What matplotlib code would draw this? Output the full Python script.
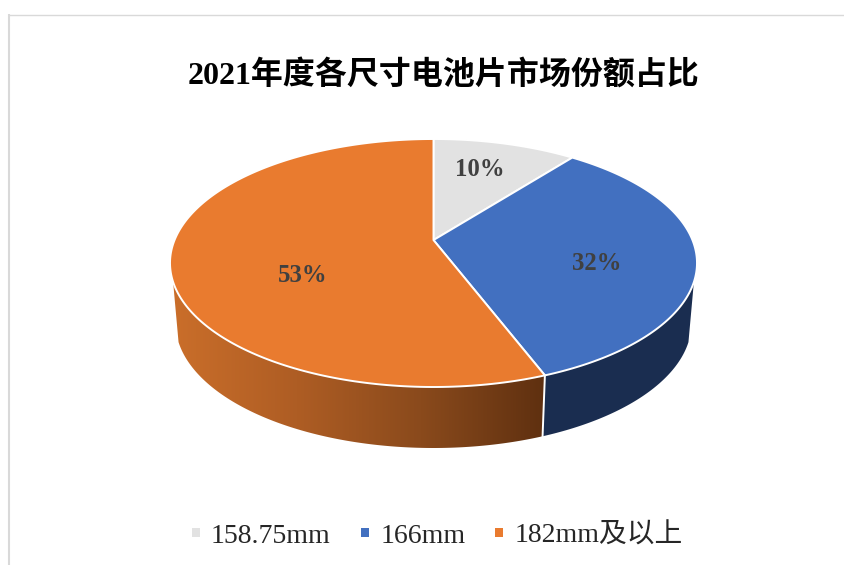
# -*- coding: utf-8 -*-
"""3D-look pie of cell size market share, 2021. Saves out.png."""
import numpy as np
import matplotlib
matplotlib.use("Agg")
import matplotlib.pyplot as plt
from matplotlib.colors import LinearSegmentedColormap
from matplotlib.patches import Polygon, Rectangle

TITLE = "2021年度各尺寸电池片市场份额占比"
CATEGORIES = ["158.75mm", "166mm", "182mm及以上"]
VALUES = [10, 32, 53]
LABELS = ["10%", "32%", "53%"]

COLORS = ["#E2E2E2", "#4270C0", "#E97B2F"]
BLUE_SIDE = "#1A2D50"
ORANGE_SIDE = ["#CA6E2A", "#AE5D24", "#8A4A1C", "#5F3010"]
TEXT = "#404040"
BORDER = "#D9D9D9"
SERIF = ["Liberation Serif", "Noto Sans CJK SC"]

# layout, in pixels of the 845x565 picture
W, H = 845, 565
TOP = dict(cx=433.5, cy=263, a=263.5, b=124)
BOTTOM = dict(cx=433.5, cy=323, a=258, b=125)
TILT = 0.185                # how far the pie centre sits above the ellipse centre
SIL_RIGHT, SIL_LEFT = 109.2, 250.8   # angles where the side wall starts and ends
LABEL_XY = [(480, 170), (597, 263), (303, 276)]
LEGEND_SWATCH = [192, 361, 495]
LEGEND_TEXT = [211, 381, 515]

plt.rcParams["font.family"] = SERIF


def rim(theta_deg, ell):
    """Clockwise-from-top angle on the unit circle -> pixel, with perspective."""
    t = np.radians(np.asarray(theta_deg, dtype=float))
    x, y = np.sin(t), np.cos(t)
    den = 1 + TILT * y
    xp = x * np.sqrt(1 - TILT ** 2) / den
    yp = (y + TILT) / den
    return np.column_stack([ell["cx"] + xp * ell["a"], ell["cy"] - yp * ell["b"]])


def arc(start, end, n=200):
    return np.linspace(start, end, n)


def side_wall(start, end):
    top = rim(arc(start, end), TOP)
    bottom = rim(arc(end, start), BOTTOM)
    return np.vstack([top, bottom])


def main():
    fig = plt.figure(figsize=(W / 100, H / 100), dpi=100, facecolor="white")
    ax = fig.add_axes([0, 0, 1, 1])
    ax.axis("off")

    # chart area border, only left and top show in the crop
    ax.plot([9, 9], [14, H], color=BORDER, lw=1.5, solid_capstyle="butt")
    ax.plot([8, W], [14.8, 14.8], color=BORDER, lw=1.0, solid_capstyle="butt")

    fracs = np.array(VALUES, dtype=float) / np.sum(VALUES)
    edges = np.concatenate([[0], np.cumsum(fracs)]) * 360

    # side walls
    blue_wall = side_wall(SIL_RIGHT, edges[2])
    ax.add_patch(Polygon(blue_wall, closed=True, facecolor=BLUE_SIDE, edgecolor="none"))
    orange_wall = Polygon(side_wall(edges[2], SIL_LEFT), closed=True,
                          facecolor="none", edgecolor="none")
    ax.add_patch(orange_wall)
    cmap = LinearSegmentedColormap.from_list("side", ORANGE_SIDE)
    xmin, xmax = orange_wall.get_xy()[:, 0].min(), orange_wall.get_xy()[:, 0].max()
    grad = ax.imshow(np.linspace(0, 1, 256)[None, :], cmap=cmap, aspect="auto",
                     extent=[xmin, xmax, H, 0], interpolation="bilinear")
    grad.set_clip_path(orange_wall)
    seam = np.vstack([rim([edges[2]], TOP), rim([edges[2]], BOTTOM)])
    ax.plot(seam[:, 0], seam[:, 1], color="white", lw=1.4)

    # top face
    centre = [TOP["cx"], TOP["cy"] - TILT * TOP["b"]]
    for i, color in enumerate(COLORS):
        pts = np.vstack([centre, rim(arc(edges[i], edges[i + 1]), TOP)])
        ax.add_patch(Polygon(pts, closed=True, facecolor=color, edgecolor="white",
                             lw=1.4, joinstyle="round"))

    for (x, y), lab in zip(LABEL_XY, LABELS):
        ax.text(x, y, lab, ha="center", va="center", fontsize=17.8,
                fontweight="bold", color=TEXT)

    ax.text(443.5, 75.5, TITLE, ha="center", va="center", fontsize=23,
            fontweight="bold", color="black")

    # legend
    for sx, tx, color, name in zip(LEGEND_SWATCH, LEGEND_TEXT, COLORS, CATEGORIES):
        ax.add_patch(Rectangle((sx, 528), 8.5, 8.5, facecolor=color, edgecolor="none"))
        ax.text(tx, 543, name, ha="left", va="baseline", fontsize=20, color="#262626")

    ax.set_xlim(0, W)
    ax.set_ylim(H, 0)
    fig.savefig("out.png", dpi=100, facecolor="white")
    plt.close(fig)


if __name__ == "__main__":
    main()
